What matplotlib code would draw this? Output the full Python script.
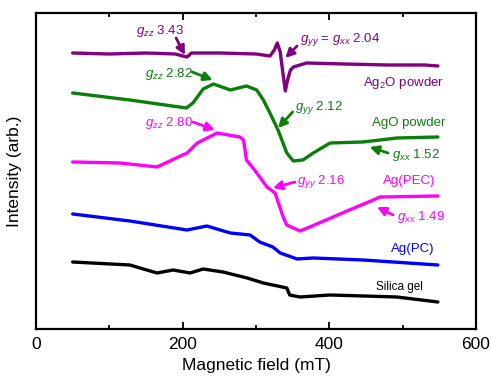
import matplotlib
matplotlib.use("Agg")
import matplotlib.pyplot as plt
from matplotlib.ticker import MultipleLocator

plt.rcParams['font.family'] = ['Liberation Sans', 'DejaVu Sans']
plt.rcParams['mathtext.fontset'] = 'custom'
plt.rcParams['mathtext.rm'] = 'Liberation Sans'
plt.rcParams['mathtext.it'] = 'Liberation Sans:italic'

# ---- data (magnetic field in mT, intensity in arbitrary offset units) ----
ag2o_x = [50, 100, 150, 190, 200, 206, 212, 250, 300, 319, 325, 329, 333, 337, 340, 343, 347, 351, 369, 420, 480, 530, 548]
ag2o_y = [276, 275, 276, 275, 273, 272, 276, 276, 275, 273, 279, 286, 277, 254, 238, 249, 259, 262, 266, 265, 264, 264, 263]

ago_x = [50, 128, 205, 214, 228, 242, 265, 287, 301, 310, 319, 330, 342, 351, 364, 378, 401, 446, 492, 548]
ago_y = [236, 229, 221, 226, 240, 245, 239, 243, 239, 229, 216, 199, 176, 168, 169, 176, 186, 187, 191, 192]

pec_x = [50, 115, 165, 206, 220, 247, 278, 283, 287, 296, 315, 326, 337, 342, 360, 383, 424, 460, 469, 548]
pec_y = [167, 166, 162, 176, 186, 196, 192, 189, 169, 161, 142, 136, 112, 104, 98, 105, 118, 129, 132, 133]

pc_x = [50, 128, 206, 233, 265, 292, 305, 323, 333, 356, 378, 446, 548]
pc_y = [115, 108, 99, 103, 96, 94, 87, 82, 76, 70, 71, 69, 64]

sil_x = [50, 128, 165, 187, 210, 228, 255, 288, 310, 342, 346, 360, 401, 492, 548]
sil_y = [67, 64, 56, 59, 56, 60, 57, 51, 46, 41, 34, 32, 34, 32, 27]

c_purple = '#800080'
c_green = '#0a800a'
c_mag = '#ff00ff'
c_blue = '#0000ff'
c_black = '#000000'

fig = plt.figure(figsize=(4.91, 3.81), dpi=100)
ax = fig.add_axes([0.0733, 0.1365, 0.8962, 0.8294])

lw = 2.4
for xs, ys, c in [(ag2o_x, ag2o_y, c_purple), (ago_x, ago_y, c_green), (pec_x, pec_y, c_mag),
                  (pc_x, pc_y, c_blue), (sil_x, sil_y, c_black)]:
    ax.plot(xs, ys, color=c, lw=lw, solid_joinstyle='round', solid_capstyle='round')

ax.set_xlim(0, 600)
ax.set_ylim(0, 316)
ax.xaxis.set_major_locator(MultipleLocator(200))
ax.xaxis.set_minor_locator(MultipleLocator(100))
ax.set_yticks([])
ax.tick_params(axis='x', which='both', direction='in', top=True, labelsize=12.5, width=1.3, pad=6)
ax.tick_params(axis='x', which='major', length=5)
ax.tick_params(axis='x', which='minor', length=3)
for s in ax.spines.values():
    s.set_linewidth(1.6)

ax.set_xlabel('Magnetic field (mT)', fontsize=12.5, labelpad=4)
ax.set_ylabel('Intensity (arb.)', fontsize=12.5, labelpad=10)

fs = 9.5

def arrow(tail, tip, color):
    ax.annotate('', xy=tip, xytext=tail,
                arrowprops=dict(arrowstyle='-|>', color=color, lw=2.0, mutation_scale=13,
                                shrinkA=0, shrinkB=0))

ax.text(169, 298, r'$g_{zz}$ 3.43', color=c_purple, fontsize=fs, ha='center', va='center')
arrow((191, 291), (203, 274), c_purple)
ax.text(360, 289, r'$g_{yy}$ = $g_{xx}$ 2.04', color=c_purple, fontsize=fs, ha='left', va='center')
arrow((356, 283), (340, 271), c_purple)
ax.text(556, 246, r'Ag$_2$O powder', color=c_purple, fontsize=fs, ha='right', va='center')

ax.text(149, 255, r'$g_{zz}$ 2.82', color=c_green, fontsize=fs, ha='left', va='center')
arrow((213, 257), (241, 249), c_green)
ax.text(353, 221, r'$g_{yy}$ 2.12', color=c_green, fontsize=fs, ha='left', va='center')
arrow((350, 217), (330, 201), c_green)
ax.text(558, 206, 'AgO powder', color=c_green, fontsize=fs, ha='right', va='center')
ax.text(485, 174, r'$g_{xx}$ 1.52', color=c_green, fontsize=fs, ha='left', va='center')
arrow((480, 176), (455, 182), c_green)

ax.text(149, 206, r'$g_{zz}$ 2.80', color=c_mag, fontsize=fs, ha='left', va='center')
arrow((214, 207), (244, 199), c_mag)
ax.text(356, 147, r'$g_{yy}$ 2.16', color=c_mag, fontsize=fs, ha='left', va='center')
arrow((353, 147), (323, 141), c_mag)
ax.text(544, 148, 'Ag(PEC)', color=c_mag, fontsize=fs, ha='right', va='center')
ax.text(492, 112, r'$g_{xx}$ 1.49', color=c_mag, fontsize=fs, ha='left', va='center')
arrow((487, 114), (465, 122), c_mag)

ax.text(544, 80, 'Ag(PC)', color=c_blue, fontsize=fs, ha='right', va='center')
ax.text(528, 42, 'Silica gel', color=c_black, fontsize=8.5, ha='right', va='center')

fig.savefig('out.png', dpi=100)
